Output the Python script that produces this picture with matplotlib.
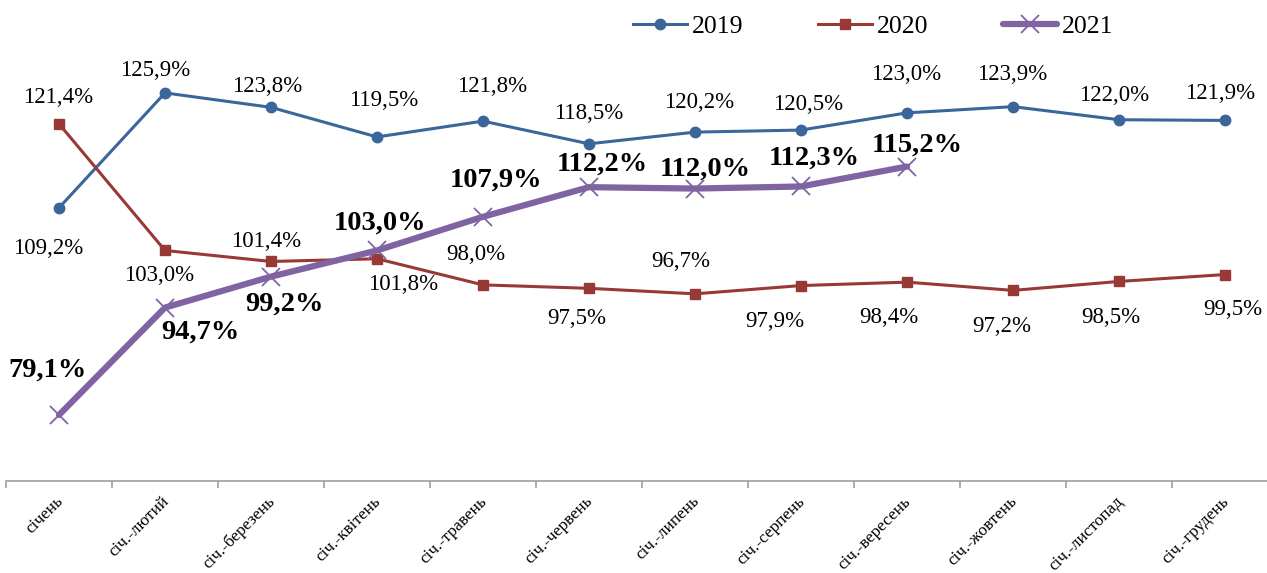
import numpy as np
import matplotlib
matplotlib.use("Agg")
import matplotlib.pyplot as plt

plt.rcParams['font.family'] = ['Liberation Serif', 'DejaVu Serif']

categories = ["січень", "січ.-лютий", "січ.-березень", "січ.-квітень", "січ.-травень",
              "січ.-червень", "січ.-липень", "січ.-серпень", "січ.-вересень",
              "січ.-жовтень", "січ.-листопад", "січ.-грудень"]
series_names = ["2019", "2020", "2021"]
values_2019 = [109.2, 125.9, 123.8, 119.5, 121.8, 118.5, 120.2, 120.5, 123.0, 123.9, 122.0, 121.9]
values_2020 = [121.4, 103.0, 101.4, 101.8, 98.0, 97.5, 96.7, 97.9, 98.4, 97.2, 98.5, 99.5]
values_2021 = [79.1, 94.7, 99.2, 103.0, 107.9, 112.2, 112.0, 112.3, 115.2]

# label offsets in pixels (dx right, dy down as in image)
off_2019 = [(-11, 41), (-10, -22), (-4, -21), (7, -36), (9, -35), (0, -30), (4, -30),
            (7, -26), (-1, -38), (-1, -32), (-5, -24), (-5, -27)]
off_2020 = [(-1, -26), (-6, 25), (-5, -20), (26, 26), (-7, -30), (-12, 30), (-14, -32),
            (-26, 36), (-18, 35), (-11, 36), (-8, 36), (8, 35)]
off_2021 = [(-11, -45), (35, 25), (13, 28), (3, -27), (13, -37), (13, -23), (10, -19),
            (13, -28), (10, -21)]

W, H = 1267, 573
fig = plt.figure(figsize=(W / 100, H / 100), dpi=100)
ax_left, ax_right = 6, 1278
ax_bottom, ax_top = 481, 0
ax = fig.add_axes([ax_left / W, 1 - ax_bottom / H, (ax_right - ax_left) / W, (ax_bottom - ax_top) / H])

c19, c20, c21 = '#3b6699', '#983936', '#8064a2'
x = np.arange(len(categories))

l19, = ax.plot(x, values_2019, color=c19, lw=2.2, marker='o', ms=7.5, label=series_names[0], zorder=3)
l20, = ax.plot(x, values_2020, color=c20, lw=2.2, marker='s', ms=7.2, label=series_names[1], zorder=3)
l21, = ax.plot(x[:len(values_2021)], values_2021, color=c21, lw=4.5, marker='x', ms=13,
               mew=1.3, label=series_names[2], zorder=4, solid_capstyle='round')

def fmt(v):
    return f"{v:.1f}".replace('.', ',') + '%'

for vals, offs, bold in [(values_2019, off_2019, False), (values_2020, off_2020, False),
                          (values_2021, off_2021, True)]:
    for i, (v, (dx, dy)) in enumerate(zip(vals, offs)):
        ax.annotate(fmt(v), (x[i], v), xytext=(dx, -dy), textcoords='offset pixels',
                    ha='center', va='center',
                    fontsize=20.5 if bold else 16.5,
                    fontweight='bold' if bold else 'normal', color='black', zorder=5,
                    annotation_clip=False)

ax.set_xlim(-0.5, len(categories) - 0.5)
ax.set_ylim(69.5, 139.4)
for s in ['top', 'right', 'left']:
    ax.spines[s].set_visible(False)
ax.spines['bottom'].set_color('#a6a6a6')
ax.spines['bottom'].set_linewidth(1.3)
ax.set_yticks([])
ax.set_xticks(x)
ax.set_xticklabels(categories, rotation=45, ha='right', va='top', rotation_mode='anchor',
                   fontsize=12.3)
ax.tick_params(axis='x', which='major', length=0, pad=9)
ax.set_xticks(np.arange(-0.5, len(categories)), minor=True)
ax.tick_params(axis='x', which='minor', length=5, direction='out', color='#a6a6a6', width=1.3)
for lab in ax.get_xticklabels():
    lab.set_transform(lab.get_transform() + matplotlib.transforms.ScaledTranslation(-4 / 100, 0, fig.dpi_scale_trans))

fig.legend(handles=[l19, l20, l21], loc='center', bbox_to_anchor=(873 / W, 1 - 27 / H),
           ncol=3, frameon=False, fontsize=18.5, handlelength=2.1, handletextpad=0.2,
           columnspacing=2.9)

fig.savefig('out.png', dpi=100)
